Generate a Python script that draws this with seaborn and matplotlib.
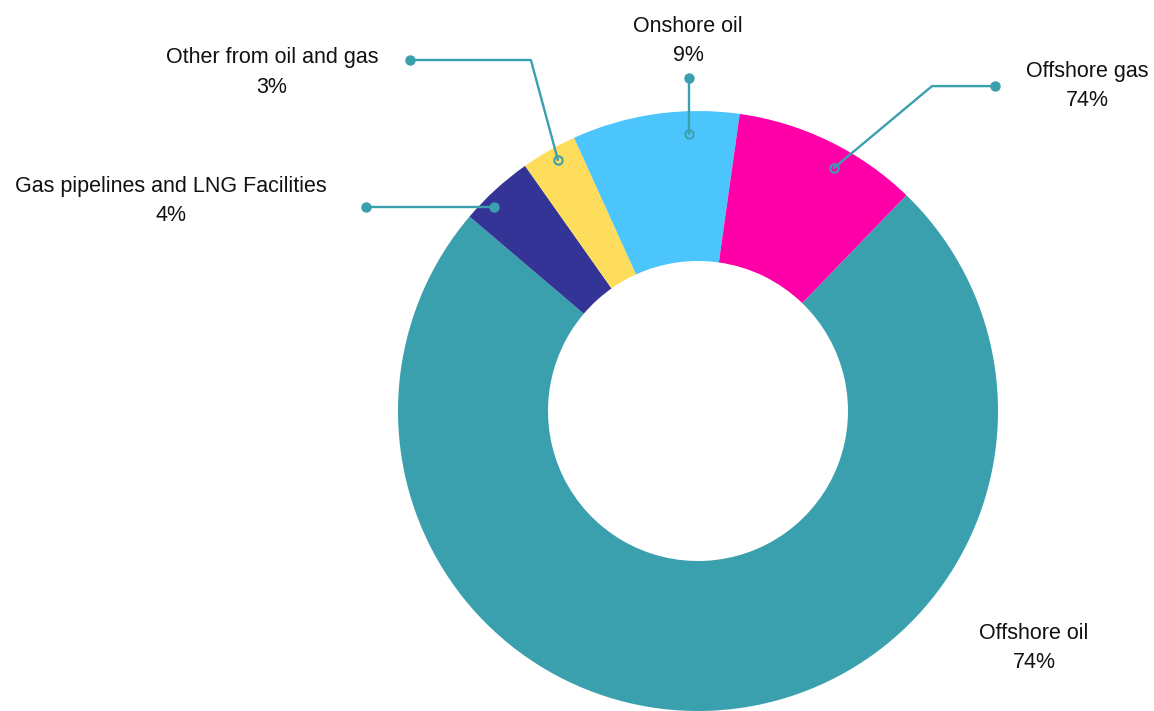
import matplotlib.pyplot as plt
import seaborn as sns

# data
categories = ["Offshore oil", "Gas pipelines and LNG Facilities", "Other from oil and gas",
              "Onshore oil", "Offshore gas"]
values = [74, 4, 3, 9, 10]
label_pcts = ["74%", "4%", "3%", "9%", "74%"]
colors = ["#3AA0AE", "#343496", "#FFDD5C", "#4BC5FC", "#FF00A8"]

# label layout in data units (1 = outer radius): text, anchor, elbow, end dot
text_pos = [(1.12, -0.79), (-1.757, 0.70), (-1.42, 1.127), (-0.033, 1.233), (1.297, 1.083)]
anchors = [None, (-0.68, 0.68), (-0.467, 0.837), (-0.03, 0.923), (0.453, 0.81)]
elbows = [None, None, (-0.557, 1.17), None, (0.78, 1.083)]
dots = [None, (-1.107, 0.68), (-0.96, 1.17), (-0.03, 1.11), (0.99, 1.083)]
filled = [False, True, False, False, False]

sns.set_theme(style="white")
plt.rcParams['font.family'] = ['Liberation Sans', 'DejaVu Sans']

W, H = 1154, 711
fig = plt.figure(figsize=(W / 100, H / 100), dpi=100)
cx, cy, r = 698, 411, 300
ax = fig.add_axes([(cx - r) / W, (H - cy - r) / H, 2 * r / W, 2 * r / H])

ax.pie(values, colors=colors, startangle=46, counterclock=False, radius=1,
       wedgeprops=dict(width=0.5, edgecolor="none", linewidth=0))
ax.set_xlim(-1, 1)
ax.set_ylim(-1, 1)
ax.set_aspect("equal")
ax.axis("off")

line_c = "#3AA0AE"
for i, cat in enumerate(categories):
    tx, ty = text_pos[i]
    ax.text(tx, ty, f"{cat}\n{label_pcts[i]}", ha="center", va="center",
            fontsize=15.5, color="#111111", linespacing=1.55, clip_on=False)
    if anchors[i] is None:
        continue
    pts = [anchors[i]] + ([elbows[i]] if elbows[i] else []) + [dots[i]]
    xs = [p[0] for p in pts]
    ys = [p[1] for p in pts]
    ax.plot(xs, ys, color=line_c, lw=1.7, clip_on=False, zorder=5)
    ax.plot(*dots[i], "o", color=line_c, ms=6.5, clip_on=False, zorder=6)
    ax.plot(*anchors[i], "o", mec=line_c, mfc=line_c if filled[i] else "none",
            mew=1.5, ms=6, clip_on=False, zorder=6)

fig.savefig("out.png", dpi=100)
